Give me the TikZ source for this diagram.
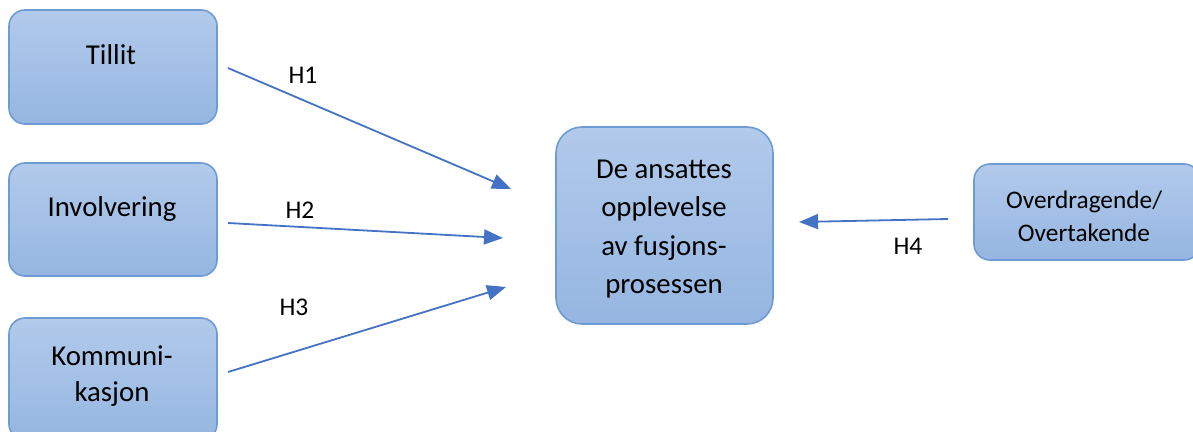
\documentclass[tikz,border=0pt]{standalone}
\usepackage{fontspec}
\setmainfont{Carlito}
\usetikzlibrary{arrows.meta}
\definecolor{boxtop}{HTML}{B2CAEB}
\definecolor{boxbot}{HTML}{95B6E1}
\definecolor{boxline}{HTML}{6D9BD4}
\definecolor{arr}{HTML}{4472C4}
\tikzset{
  box/.style={draw=boxline, line width=1.6pt, top color=boxtop, bottom color=boxbot, rounded corners=16pt},
  bigbox/.style={box, rounded corners=26pt},
  txt/.style={font=\fontsize{28.8}{36}\selectfont, align=center, text=black, inner sep=0pt},
  smalltxt/.style={font=\fontsize{25.3}{33}\selectfont, align=center, text=black, inner sep=0pt},
  hlab/.style={font=\fontsize{25.5}{28}\selectfont, text=black, inner sep=0pt},
  conn/.style={draw=arr, line width=1.8pt, -{Triangle[length=19pt,width=15pt]}}
}
\begin{document}
\begin{tikzpicture}[x=1pt,y=-1pt]
\useasboundingbox (0,0) rectangle (1193,431);
% boxes
\draw[box] (9,10) rectangle (217,124);
\draw[box] (9,163) rectangle (217,276);
\draw[box] (9,318) rectangle (217,440);
\draw[bigbox] (556,127) rectangle (773,324);
\draw[box] (974,164) rectangle (1200,260);
% texts
\node[txt] (tillit) at (111,55) {Tillit};
\node[txt] (inv) at (112,209) {Involvering};
\node[txt] (kom) at (112,376) {Kommuni-\\kasjon};
\node[txt, font=\fontsize{28.8}{38.5}\selectfont] (dv) at (664,229) {De ansattes\\opplevelse\\av fusjons-\\prosessen};
\node[smalltxt] (ov) at (1084,216) {Overdragende/\\Overtakende};
% connector coordinates
\coordinate (s1) at (228,68);
\coordinate (e1) at (511,189);
\coordinate (s2) at (228,223);
\coordinate (e2) at (503,238);
\coordinate (s3) at (228,372);
\coordinate (e3) at (506,287);
\coordinate (s4) at (948,219);
\coordinate (e4) at (799,222);
\draw[conn] (s1) -- (e1);
\draw[conn] (s2) -- (e2);
\draw[conn] (s3) -- (e3);
\draw[conn] (s4) -- (e4);
% labels
\node[hlab] (h1) at (303,75) {H1};
\node[hlab] (h2) at (300,210) {H2};
\node[hlab] (h3) at (294,307) {H3};
\node[hlab] (h4) at (908,246) {H4};
\end{tikzpicture}
\end{document}
